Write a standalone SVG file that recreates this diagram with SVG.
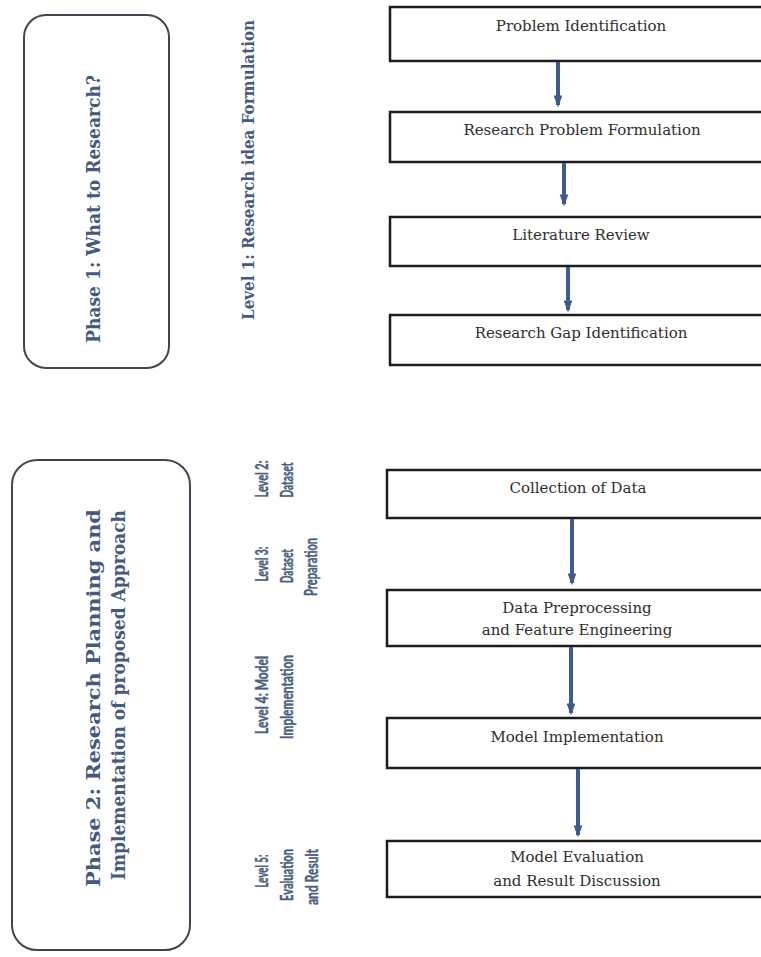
<svg xmlns="http://www.w3.org/2000/svg" width="761" height="957" viewBox="0 0 761 957">
<defs>
<style>
.phase{fill:#fff;stroke:#3f4852;stroke-width:2}
.box{fill:#fff;stroke:#1c1c1c;stroke-width:2.5}
.ptxt{font-family:"DejaVu Serif","Liberation Serif",serif;font-weight:bold;font-size:19px;fill:#435a7c}
.l1{font-family:"DejaVu Serif","Liberation Serif",serif;font-weight:bold;font-size:16px;fill:#435a7c}
.lv{font-family:Lato,"Liberation Sans",sans-serif;font-weight:bold;font-size:16.5px;fill:#4a6080;stroke:#4a6080;stroke-width:0.45}
.btxt{font-family:"DejaVu Serif","Liberation Serif",serif;font-size:15px;fill:#2e2e2e;text-anchor:middle}
.arr{stroke:#3d5b8c;stroke-width:4;fill:none;marker-end:url(#ah)}
</style>
<marker id="ah" viewBox="0 0 10 10" refX="8" refY="5" markerWidth="3" markerHeight="2.2" orient="auto" markerUnits="strokeWidth" preserveAspectRatio="none">
<path d="M0,0 L10,5 L0,10 Z" fill="#3d5b8c"/>
</marker>
</defs>
<rect width="761" height="957" fill="#fff"/>

<g id="phase1">
<rect class="phase" x="24" y="15" width="145" height="353" rx="22"/>
<text class="ptxt" transform="translate(100,209) rotate(-90)" text-anchor="middle" textLength="268" lengthAdjust="spacingAndGlyphs">Phase 1: What to Research?</text>
</g>
<g id="level1">
<text class="l1" transform="translate(254,170) rotate(-90)" text-anchor="middle" textLength="300" lengthAdjust="spacingAndGlyphs">Level 1: Research idea Formulation</text>
</g>

<g id="phase2">
<rect class="phase" x="12" y="460" width="178" height="490" rx="25"/>
<text class="ptxt" transform="translate(100,698) rotate(-90)" text-anchor="middle" textLength="378" lengthAdjust="spacingAndGlyphs">Phase 2: Research Planning and</text>
<text class="ptxt" transform="translate(125,695) rotate(-90)" text-anchor="middle" textLength="370" lengthAdjust="spacingAndGlyphs">Implementation of proposed Approach</text>
</g>

<g id="level2">
<text class="lv" transform="translate(268,479) rotate(-90)" text-anchor="middle" textLength="37" lengthAdjust="spacingAndGlyphs">Level 2:</text>
<text class="lv" transform="translate(293,480) rotate(-90)" text-anchor="middle" textLength="35" lengthAdjust="spacingAndGlyphs">Dataset</text>
</g>
<g id="level3">
<text class="lv" transform="translate(268,564) rotate(-90)" text-anchor="middle" textLength="35" lengthAdjust="spacingAndGlyphs">Level 3:</text>
<text class="lv" transform="translate(293,566) rotate(-90)" text-anchor="middle" textLength="34" lengthAdjust="spacingAndGlyphs">Dataset</text>
<text class="lv" transform="translate(317,567) rotate(-90)" text-anchor="middle" textLength="58" lengthAdjust="spacingAndGlyphs">Preparation</text>
</g>
<g id="level4">
<text class="lv" transform="translate(268,695) rotate(-90)" text-anchor="middle" textLength="78" lengthAdjust="spacingAndGlyphs">Level 4: Model</text>
<text class="lv" transform="translate(293,697) rotate(-90)" text-anchor="middle" textLength="84" lengthAdjust="spacingAndGlyphs">Implementation</text>
</g>
<g id="level5">
<text class="lv" transform="translate(268,871) rotate(-90)" text-anchor="middle" textLength="33" lengthAdjust="spacingAndGlyphs">Level 5:</text>
<text class="lv" transform="translate(293,875) rotate(-90)" text-anchor="middle" textLength="52" lengthAdjust="spacingAndGlyphs">Evaluation</text>
<text class="lv" transform="translate(318,877) rotate(-90)" text-anchor="middle" textLength="56" lengthAdjust="spacingAndGlyphs">and Result</text>
</g>

<g id="n1"><rect class="box" x="390" y="7" width="390" height="54"/><text class="btxt" x="581" y="31">Problem Identification</text></g>
<g id="n2"><rect class="box" x="390" y="112" width="390" height="50"/><text class="btxt" x="582" y="135">Research Problem Formulation</text></g>
<g id="n3"><rect class="box" x="390" y="217" width="390" height="49"/><text class="btxt" x="581" y="240">Literature Review</text></g>
<g id="n4"><rect class="box" x="390" y="315" width="390" height="50"/><text class="btxt" x="581" y="338">Research Gap Identification</text></g>
<g id="n5"><rect class="box" x="387" y="470" width="390" height="48"/><text class="btxt" x="578" y="493">Collection of Data</text></g>
<g id="n6"><rect class="box" x="387" y="590" width="390" height="56"/><text class="btxt" x="577" y="613">Data Preprocessing</text><text class="btxt" x="577" y="635">and Feature Engineering</text></g>
<g id="n7"><rect class="box" x="387" y="718" width="390" height="50"/><text class="btxt" x="577" y="742">Model Implementation</text></g>
<g id="n8"><rect class="box" x="387" y="841" width="390" height="56"/><text class="btxt" x="577" y="862">Model Evaluation</text><text class="btxt" x="577" y="886">and Result Discussion</text></g>

<g id="connectors">
<line class="arr" x1="558" y1="62" x2="558" y2="105"/>
<line class="arr" x1="564" y1="163" x2="564" y2="204"/>
<line class="arr" x1="568" y1="267" x2="568" y2="310"/>
<line class="arr" x1="572" y1="519" x2="572" y2="583"/>
<line class="arr" x1="571" y1="647" x2="571" y2="713"/>
<line class="arr" x1="578" y1="769" x2="578" y2="835"/>
</g>
</svg>
